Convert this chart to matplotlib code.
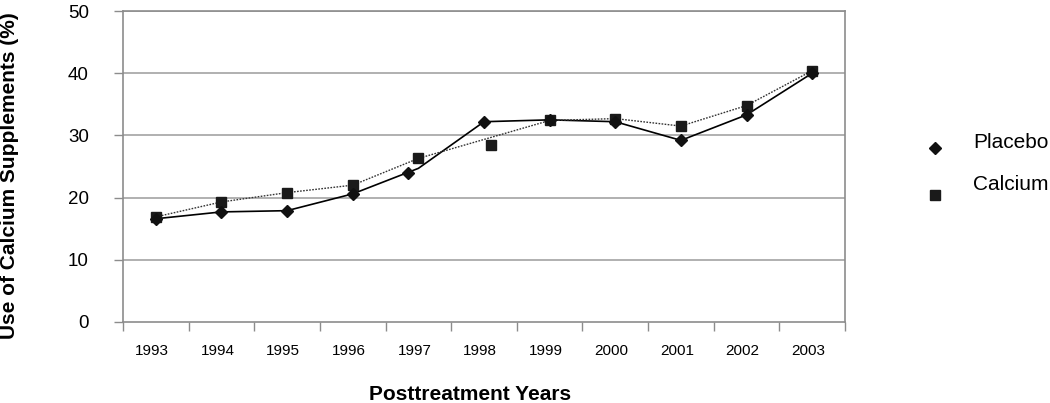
import matplotlib.pyplot as plt
from matplotlib.lines import Line2D
from matplotlib.transforms import ScaledTranslation
import numpy as np

plt.rcParams['font.family'] = ['Liberation Sans', 'DejaVu Sans']

### Data

years = [1993, 1994, 1995, 1996, 1997, 1998, 1999, 2000, 2001, 2002, 2003]

# line vertices at each year
placebo_line = [16.6, 17.7, 17.9, 20.6, 24.7, 32.2, 32.5, 32.2, 29.2, 33.3, 40.0]
# dotted line skips 1998
calcium_line_years = [1993, 1994, 1995, 1996, 1997, 1999, 2000, 2001, 2002, 2003]
calcium_line = [16.9, 19.3, 20.8, 22.0, 26.3, 32.4, 32.7, 31.5, 34.8, 40.4]

# marker positions (some markers sit slightly off the year)
placebo_x = [1993, 1994, 1995, 1996, 1996.84, 1998, 1999, 2000, 2001, 2002, 2003]
placebo_y = [16.6, 17.7, 17.9, 20.6, 24.0, 32.2, 32.5, 32.2, 29.2, 33.3, 40.0]
calcium_x = [1993, 1994, 1995, 1996, 1997, 1998.1, 1999, 2000, 2001, 2002, 2003]
calcium_y = [16.9, 19.3, 20.8, 22.0, 26.3, 28.4, 32.4, 32.7, 31.5, 34.8, 40.4]

y_ticks = [0, 10, 20, 30, 40, 50]
series_names = ['Placebo', 'Calcium']

### Figure

fig = plt.figure(figsize=(10.5, 4.03), dpi=100)
ax = fig.add_axes([123 / 1050, 1 - 322 / 403, 722 / 1050, 311 / 403])

axis_grey = '#8c8c8c'
grid_grey = '#aaaaaa'
diamond = dict(marker='D', ms=6.4, mfc='#111111', mec='#111111')
square = dict(marker='s', ms=6.8, mfc='#1a1a1a', mec='#1a1a1a')

for y in y_ticks[1:]:
    ax.axhline(y, color=grid_grey, lw=1.3, zorder=0)

ax.plot(years, placebo_line, color='black', lw=1.2, zorder=2)
ax.plot(calcium_line_years, calcium_line, color='#333333', lw=1.0,
        dashes=(1.2, 1.0), zorder=2)

ax.plot(calcium_x, calcium_y, ls='none', zorder=3, **square)
ax.plot(placebo_x, placebo_y, ls='none', zorder=4, **diamond)

### Axes

ax.set_xlim(1992.5, 2003.5)
ax.set_ylim(0, 50)

for side in ['left', 'right', 'top', 'bottom']:
    ax.spines[side].set_color(axis_grey)
    ax.spines[side].set_linewidth(1.2)

ax.set_xticks(years)
ax.set_xticklabels([str(y) for y in years])
ax.set_xticks(np.arange(1992.5, 2004, 1.0), minor=True)
ax.tick_params(axis='x', which='major', length=0, pad=16, labelsize=11)
ax.tick_params(axis='x', which='minor', length=6.5, width=1.0, color=axis_grey,
               direction='out')
shift = ScaledTranslation(-4 / 100, 0, fig.dpi_scale_trans)
for lab in ax.get_xticklabels():
    lab.set_transform(lab.get_transform() + shift)

ax.set_yticks(y_ticks)
ax.tick_params(axis='y', length=6.5, width=1.0, color=axis_grey, pad=18,
               labelsize=13.5)

fig.text(10 / 1050, 1 - 176 / 403, 'Use of Calcium Supplements (%)',
         rotation=90, ha='center', va='center', fontsize=15, fontweight='bold')
fig.text(470 / 1050, 3 / 403, 'Posttreatment Years', ha='center',
         va='baseline', fontsize=15, fontweight='bold')

### Legend (drawn by hand to keep the marker offsets)

legend_text_y = [143, 185]
legend_mark_y = [148, 195]
for name, ty, my, style in zip(series_names, legend_text_y, legend_mark_y,
                               [diamond, square]):
    fig.text(973 / 1050, 1 - ty / 403, name, ha='left', va='center',
             fontsize=15)
    fig.add_artist(Line2D([935 / 1050], [1 - my / 403], ls='none',
                          transform=fig.transFigure, **style))

fig.savefig('out.png', dpi=100)
plt.close(fig)
